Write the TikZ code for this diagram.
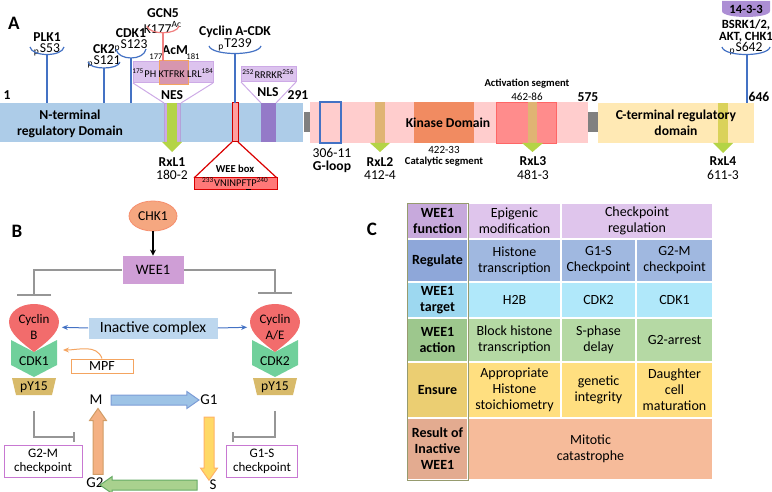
\documentclass[tikz,border=0pt]{standalone}
\usepackage{fontspec}
\setmainfont{Carlito}
\usetikzlibrary{arrows.meta,shapes.geometric,shapes.arrows,calc,positioning}

% domain map colours
\definecolor{ntermblue}{RGB}{173,204,232}
\definecolor{kinasepink}{RGB}{255,205,205}
\definecolor{ctermyellow}{RGB}{255,233,180}
\definecolor{catalorange}{RGB}{241,139,97}
\definecolor{actred}{RGB}{255,140,140}
\definecolor{rxltan}{RGB}{224,180,115}
\definecolor{rxlgreen}{RGB}{180,212,70}
\definecolor{rxlolive}{RGB}{218,210,90}
\definecolor{nlspurple}{RGB}{148,122,200}
\definecolor{motifpurple}{RGB}{220,195,238}
\definecolor{conepurple}{RGB}{205,170,230}
\definecolor{linkgray}{RGB}{128,128,128}
\definecolor{phosblue}{RGB}{68,114,196}
\definecolor{acpink}{RGB}{240,128,128}
\definecolor{ktfrkrose}{RGB}{215,150,175}
\definecolor{weepink}{RGB}{255,160,160}
\definecolor{weered}{RGB}{255,120,120}
\definecolor{capsulepurple}{RGB}{172,142,212}
% pathway colours
\definecolor{chkorange}{RGB}{245,167,128}
\definecolor{weeplum}{RGB}{207,158,214}
\definecolor{inhibgray}{RGB}{150,150,150}
\definecolor{cyclinred}{RGB}{242,108,108}
\definecolor{cdkgreen}{RGB}{112,208,155}
\definecolor{pytan}{RGB}{216,186,106}
\definecolor{complexblue}{RGB}{189,215,238}
\definecolor{mpforange}{RGB}{244,164,96}
\definecolor{checkpink}{RGB}{200,120,210}
\definecolor{mgblue}{RGB}{157,195,230}
\definecolor{gsyellow}{RGB}{255,217,102}
\definecolor{sggreen}{RGB}{169,209,142}
\definecolor{gmorange}{RGB}{244,177,131}
% table colours
\definecolor{funcleft}{RGB}{199,169,220}
\definecolor{funcfill}{RGB}{223,197,236}
\definecolor{regleft}{RGB}{142,167,217}
\definecolor{regfill}{RGB}{160,184,224}
\definecolor{tarleft}{RGB}{157,216,240}
\definecolor{tarfill}{RGB}{176,232,250}
\definecolor{actleft}{RGB}{157,199,141}
\definecolor{actfill}{RGB}{181,217,164}
\definecolor{ensleft}{RGB}{235,206,114}
\definecolor{ensfill}{RGB}{255,223,128}
\definecolor{resleft}{RGB}{227,171,144}
\definecolor{resfill}{RGB}{246,187,154}
\definecolor{tableframe}{RGB}{150,155,110}

\begin{document}
\begin{tikzpicture}[x=0.5pt,y=-0.5pt,
  lab/.style={font=\fontsize{6.8}{7.8}\selectfont, inner sep=0pt, align=center},
  blab/.style={font=\fontsize{6.8}{7.8}\selectfont\bfseries, inner sep=0pt, align=center},
  seqlab/.style={font=\fontsize{5.2}{6}\selectfont, inner sep=0pt},
  smalllab/.style={font=\fontsize{5.5}{6.5}\selectfont, inner sep=0pt, align=center},
  smallb/.style={font=\fontsize{5.3}{6.3}\selectfont\bfseries, inner sep=0pt, align=center},
  tinylab/.style={font=\fontsize{4.3}{5}\selectfont, inner sep=0pt},
  panel/.style={font=\fontsize{9.5}{11}\selectfont\bfseries, inner sep=0pt},
  stem/.style={phosblue, line width=1pt},
  cup/.style={phosblue, line width=0.6pt},
  cone/.style={conepurple, line width=0.5pt},
  inhib/.style={inhibgray, line width=1pt, -{Bar[width=17pt]}},
  inhibsmall/.style={inhibgray, line width=1pt, -{Bar[width=5pt]}},
  cpxarrow/.style={phosblue, line width=0.5pt, -{Stealth[length=3pt,width=2.5pt]}},
  cycarrow/.style={single arrow, inner sep=2.25pt, single arrow head extend=1.75pt,
    single arrow tip angle=70, line width=0.5pt, sloped, allow upside down},
  cyclelab/.style={font=\fontsize{7.5}{8.5}\selectfont, inner sep=0pt},
  checkbox/.style={draw=checkpink, line width=0.5pt, minimum height=16pt,
    font=\fontsize{6.5}{7}\selectfont, align=center, inner sep=0pt},
  tcell/.style={draw=white, line width=1pt, inner sep=0pt, align=center,
    font=\fontsize{7}{8}\selectfont},
  tleft/.style={tcell, font=\fontsize{7}{8}\selectfont\bfseries, minimum width=30.5pt}
]
\useasboundingbox (0,0) rectangle (772,492);

%%%%% A: domain map
\node[panel] (labA) at (14,23) {A};

% domain bar
\fill[ntermblue] (0,103) rectangle (303,142);
\fill[linkgray] (304,112) rectangle (310,132);
\fill[kinasepink] (310,102) rectangle (588,143);
\fill[linkgray] (588,112) rectangle (598,132);
\fill[ctermyellow] (598,103) rectangle (754,143);

% kinase domain features
\filldraw[fill=kinasepink, draw=phosblue, line width=0.6pt] (320,102) rectangle (341,143);
\fill[catalorange] (414,102) rectangle (474,143);
\filldraw[fill=actred, draw=red!60, line width=0.4pt] (496,102) rectangle (556,143);
\fill[rxltan] (375,102) rectangle (385,143);
\fill[rxltan] (528,102) rectangle (537,143);
\fill[rxlolive] (718,103) rectangle (728,143);

% N-terminal features
\filldraw[fill=conepurple, draw=nlspurple!70, line width=0.4pt] (164,103) rectangle (180,142);
\fill[rxlgreen] (167,103) rectangle (177,142);
\filldraw[fill=weepink, draw=red!80!black, line width=0.5pt] (232,103) rectangle (238,142);
\fill[nlspurple] (261,103) rectangle (276,142);

% RxL arrowheads
\fill[rxlgreen] (162,142) -- (182,142) -- (172,152) -- cycle;
\fill[rxlgreen] (370,143) -- (390,143) -- (380,152) -- cycle;
\fill[rxlgreen] (522,143) -- (543,143) -- (532.5,152) -- cycle;
\fill[rxlgreen] (713,143) -- (733,143) -- (723,153) -- cycle;

% domain texts
\node[blab] (nterm) at (70,124) {N-terminal\\regulatory Domain};
\node[blab] (kdom) at (448,123) {Kinase Domain};
\node[blab] (cterm) at (676,123) {C-terminal regulatory\\domain};
\node[blab] (r1) at (7,95) {1};
\node[blab] (r291) at (298,95) {291};
\node[blab] (r575) at (588,97) {575};
\node[blab] (r646) at (759,97) {646};

% labels under the bar
\node[blab] (rxl1) at (172,162) {RxL1};
\node[lab] (rxl1pos) at (172,175) {180-2};
\node[lab] (gloopos) at (332,153) {306-11};
\node[blab] (gloop) at (332,167) {G-loop};
\node[blab] (rxl2) at (380,162) {RxL2};
\node[lab] (rxl2pos) at (380,175) {412-4};
\node[smalllab] (catpos) at (444,150) {422-33};
\node[smallb] (catseg) at (444,162) {Catalytic segment};
\node[blab] (rxl3) at (533,161) {RxL3};
\node[lab] (rxl3pos) at (533,175) {481-3};
\node[blab] (rxl4) at (723,161) {RxL4};
\node[lab] (rxl4pos) at (723,175) {611-3};
\node[smallb] (actseg) at (527,84) {Activation segment};
\node[smalllab] (actpos) at (527,97) {462-86};

% WEE box
\draw[red!85!black, line width=0.6pt] (232,142) -- (194,178) (238,142) -- (277,178);
\filldraw[fill=weered, draw=red!85!black, line width=0.5pt] (194,178) rectangle (277,190);
\node[smallb] (weebox) at (235,169) {WEE box};
\node[seqlab] (weeseq) at (235.5,184) {\textsuperscript{233}VNINPF\underline{T}P\textsuperscript{240}};

% NES / AcM motif
\draw[cone] (133,83) -- (164,103);
\draw[cone] (213,83) -- (181,103);
\filldraw[fill=motifpurple, draw=conepurple, line width=0.5pt] (133,62) rectangle (213,83);
\filldraw[fill=ktfrkrose, draw=mpforange, line width=0.5pt] (159,61) rectangle (188,85);
\node[seqlab] (acmseq) at (173,73) {\textsuperscript{175}PH KTFRK LRL\textsuperscript{184}};
\node[tinylab] (n177) at (156,57) {177};
\node[tinylab] (n181) at (193,57) {181};
\node[blab] (acm) at (175,50) {AcM};
\node[blab] (nes) at (172,95) {NES};

% NLS motif
\draw[cone] (241,82) -- (261,103);
\draw[cone] (296,82) -- (276,103);
\filldraw[fill=motifpurple, draw=conepurple, line width=0.5pt] (241,67) rectangle (296,82);
\node[seqlab] (nlsseq) at (268.5,74.5) {\textsuperscript{252}RRRKR\textsuperscript{256}};
\node[blab] (nls) at (268,92) {NLS};

% modification sites
\node[blab] (plk1) at (47,37) {PLK1};
\node[lab] (s53) at (47,50) {\textsubscript{p}S53};
\draw[cup] (30,47) .. controls (32,57) and (62,57) .. (64,47);
\draw[stem] (47,54.5) -- (47,103);

\node[blab] (ck2) at (104,49) {CK2};
\node[lab] (s121) at (104,62) {\textsubscript{p}S121};
\draw[cup] (88,62) .. controls (90,70) and (118,70) .. (120,62);
\draw[stem] (104,68) -- (104,103);

\node[blab] (cdk1site) at (131,33) {CDK1};
\node[lab] (s123) at (131,46) {\textsubscript{p}S123};
\draw[cup] (116,49) .. controls (118,61) and (144,61) .. (146,49);
\draw[stem] (131,58) -- (131,103);

\node[blab] (gcn5) at (163,13) {GCN5};
\node[lab] (k177) at (163,27) {K177\textsuperscript{Ac}};
\draw[acpink, line width=0.6pt] (147,26) .. controls (149,35) and (177,35) .. (179,26);
\draw[acpink, line width=1pt] (163,32.75) -- (163,61);

\node[blab] (cyca) at (235,32) {Cyclin A-CDK};
\node[lab] (t239) at (235,45) {\textsubscript{p}T239};
\draw[cup] (209,46) .. controls (212,56) and (258,56) .. (261,46);
\draw[stem] (235,53.5) -- (235,103);

\fill[capsulepurple] (722,1) -- (770,1) -- (770,11) .. controls (770,19) and (722,19) .. (722,11) -- cycle;
\node[blab, font=\fontsize{6.3}{7}\selectfont\bfseries] (f1433) at (746,9) {14-3-3};
\node[blab, font=\fontsize{6.3}{7}\selectfont\bfseries] (bsrk) at (746,25) {BSRK1/2,};
\node[blab, font=\fontsize{6.3}{7}\selectfont\bfseries] (akt) at (746,37) {AKT, CHK1};
\node[lab] (s642) at (746,49) {\textsubscript{p}S642};
\draw[cup] (722,47) .. controls (724,57) and (768,57) .. (770,47);
\draw[stem] (747,54.5) -- (747,103);

%%%%% B: pathway
\node[panel] (labB) at (17,231) {B};

\node[ellipse, fill=chkorange, draw=chkorange!85!red, minimum width=24pt, minimum height=15pt,
  inner sep=0pt, font=\fontsize{6.8}{7.8}\selectfont] (chk1) at (153,216) {CHK1};
\node[fill=weeplum, minimum width=30.5pt, minimum height=14pt, inner sep=0pt,
  font=\fontsize{7.2}{8}\selectfont] (wee1) at (153,270) {WEE1};
\draw[-{Stealth[length=3pt,width=3pt]}, line width=0.6pt] (chk1) -- (wee1);

% cyclin / CDK complexes
\fill[cdkgreen] (11,340) -- (34,352) -- (57,340) -- (57,365) -- (34,377) -- (11,365) -- cycle;
\fill[cdkgreen] (252,340) -- (275,352) -- (298,340) -- (298,365) -- (275,377) -- (252,365) -- cycle;
\fill[cyclinred] (34,352) .. controls (24,344) and (9,334) .. (9,322) .. controls (9,312) and (20,304) .. (34,304)
  .. controls (48,304) and (59,312) .. (59,322) .. controls (59,334) and (44,344) .. (34,352) -- cycle;
\fill[cyclinred] (275,352) .. controls (265,344) and (250,334) .. (250,322) .. controls (250,312) and (261,304) .. (275,304)
  .. controls (289,304) and (300,312) .. (300,322) .. controls (300,334) and (285,344) .. (275,352) -- cycle;
\fill[pytan] (12,378) -- (56,378) -- (52,395) -- (16,395) -- cycle;
\fill[pytan] (253,378) -- (297,378) -- (293,395) -- (257,395) -- cycle;

\node[lab, font=\fontsize{6.5}{8}\selectfont] (cycb) at (34,327) {Cyclin\\B};
\node[lab, font=\fontsize{6.5}{8}\selectfont] (cycae) at (275,327) {Cyclin\\A/E};
\node[lab] (cdk1) at (34,361) {CDK1};
\node[lab] (cdk2) at (275,361) {CDK2};
\node[lab] (py1) at (34,387) {pY15};
\node[lab] (py2) at (275,387) {pY15};

% WEE1 inhibits both complexes
\coordinate (cbtop) at (34,296);
\coordinate (catop) at (275,294);
\draw[inhib] (wee1.west) -| (cbtop);
\draw[inhib] (wee1.east) -| (catop);

\node[fill=complexblue, minimum width=64.5pt, minimum height=10.5pt, inner sep=0pt,
  font=\fontsize{7.8}{9}\selectfont] (cpx) at (153,328) {Inactive complex};
\draw[cpxarrow, shorten >=6pt] (cpx.west) -- (cycb.east);
\draw[cpxarrow, shorten >=6pt] (cpx.east) -- (cycae.west);

\node[draw=mpforange, line width=0.5pt, minimum width=31pt, minimum height=7pt, inner sep=0pt,
  font=\fontsize{7}{8}\selectfont] (mpf) at (102,366) {MPF};
\coordinate (mpftip) at (63,350);
\draw[mpforange, line width=0.5pt, -{Stealth[length=3pt,width=2.5pt]}] (mpf.north) to[out=110, in=0] (mpftip);

% cell cycle
\node[cyclelab] (m) at (96,400) {M};
\node[cyclelab] (g1) at (209,400) {G1};
\node[cyclelab] (s) at (213,485) {S};
\node[cyclelab] (g2) at (95,483) {G2};
\path (m) -- (g1) node[midway, cycarrow, fill=mgblue, draw=phosblue!70, minimum height=44pt] (mg1) {};
\path (g1) -- (g1 |- s) node[midway, cycarrow, fill=gsyellow, draw=orange!60, minimum height=31.5pt] (g1s) {};
\path (s) -- (s -| g2) node[midway, cycarrow, fill=sggreen, draw=green!45!black!60, minimum height=48.5pt] (sg2) {};
\path ($(g2)+(3,-5)$) -- ($(m)+(2,12)$) node[midway, cycarrow, fill=gmorange, draw=orange!70!black!60, minimum height=33pt] (g2m) {};

% checkpoints
\node[checkbox, minimum width=39pt] (g2mcp) at (43,461) {G2-M\\checkpoint};
\node[checkbox, minimum width=35.5pt] (g1scp) at (262,461) {G1-S\\checkpoint};
\coordinate (gmbar) at (75,437);
\coordinate (gsbar) at (232,437);
\draw[inhibsmall, shorten <=9pt] (py1.south) |- (gmbar);
\draw[inhibsmall, shorten <=9pt] (py2.south) |- (gsbar);

%%%%% C: table
\node[panel] (labC) at (372,229) {C};

\node[tleft, fill=funcleft, minimum height=18pt] (t11) at (437.5,221) {WEE1\\function};
\node[tcell, fill=funcfill, minimum width=46.5pt, minimum height=18pt] (t12) at (514.5,221) {Epigenic\\modification};
\node[tcell, fill=funcfill, minimum width=76pt, minimum height=18pt] (t13) at (637,221) {Checkpoint\\regulation};

\node[tleft, fill=regleft, minimum height=21.5pt] (t21) at (437.5,260.5) {Regulate};
\node[tcell, fill=regfill, minimum width=46.5pt, minimum height=21.5pt] (t22) at (514.5,260.5) {Histone\\transcription};
\node[tcell, fill=regfill, minimum width=37.5pt, minimum height=21.5pt] (t23) at (598.5,260.5) {G1-S\\Checkpoint};
\node[tcell, fill=regfill, minimum width=38.5pt, minimum height=21.5pt] (t24) at (674.5,260.5) {G2-M\\checkpoint};

\node[tleft, fill=tarleft, minimum height=18pt] (t31) at (437.5,300) {WEE1\\target};
\node[tcell, fill=tarfill, minimum width=46.5pt, minimum height=18pt] (t32) at (514.5,300) {H2B};
\node[tcell, fill=tarfill, minimum width=37.5pt, minimum height=18pt] (t33) at (598.5,300) {CDK2};
\node[tcell, fill=tarfill, minimum width=38.5pt, minimum height=18pt] (t34) at (674.5,300) {CDK1};

\node[tleft, fill=actleft, minimum height=22pt] (t41) at (437.5,340) {WEE1\\action};
\node[tcell, fill=actfill, minimum width=46.5pt, minimum height=22pt] (t42) at (514.5,340) {Block histone\\transcription};
\node[tcell, fill=actfill, minimum width=37.5pt, minimum height=22pt] (t43) at (598.5,340) {S-phase\\delay};
\node[tcell, fill=actfill, minimum width=38.5pt, minimum height=22pt] (t44) at (674.5,340) {G2-arrest};

\node[tleft, fill=ensleft, minimum height=28pt] (t51) at (437.5,390) {Ensure};
\node[tcell, fill=ensfill, minimum width=46.5pt, minimum height=28pt] (t52) at (514.5,390) {Appropriate\\Histone\\stoichiometry};
\node[tcell, fill=ensfill, minimum width=37.5pt, minimum height=28pt] (t53) at (598.5,390) {genetic\\integrity};
\node[tcell, fill=ensfill, minimum width=38.5pt, minimum height=28pt] (t54) at (674.5,390) {Daughter\\cell\\maturation};

\node[tleft, fill=resleft, minimum height=31pt] (t61) at (437.5,449) {Result of\\Inactive\\WEE1};
\node[tcell, fill=resfill, minimum width=122.5pt, minimum height=31pt] (t62) at (590.5,449) {Mitotic\\catastrophe};

\draw[tableframe, line width=0.4pt] (407,203) rectangle (468,480);

\end{tikzpicture}
\end{document}
